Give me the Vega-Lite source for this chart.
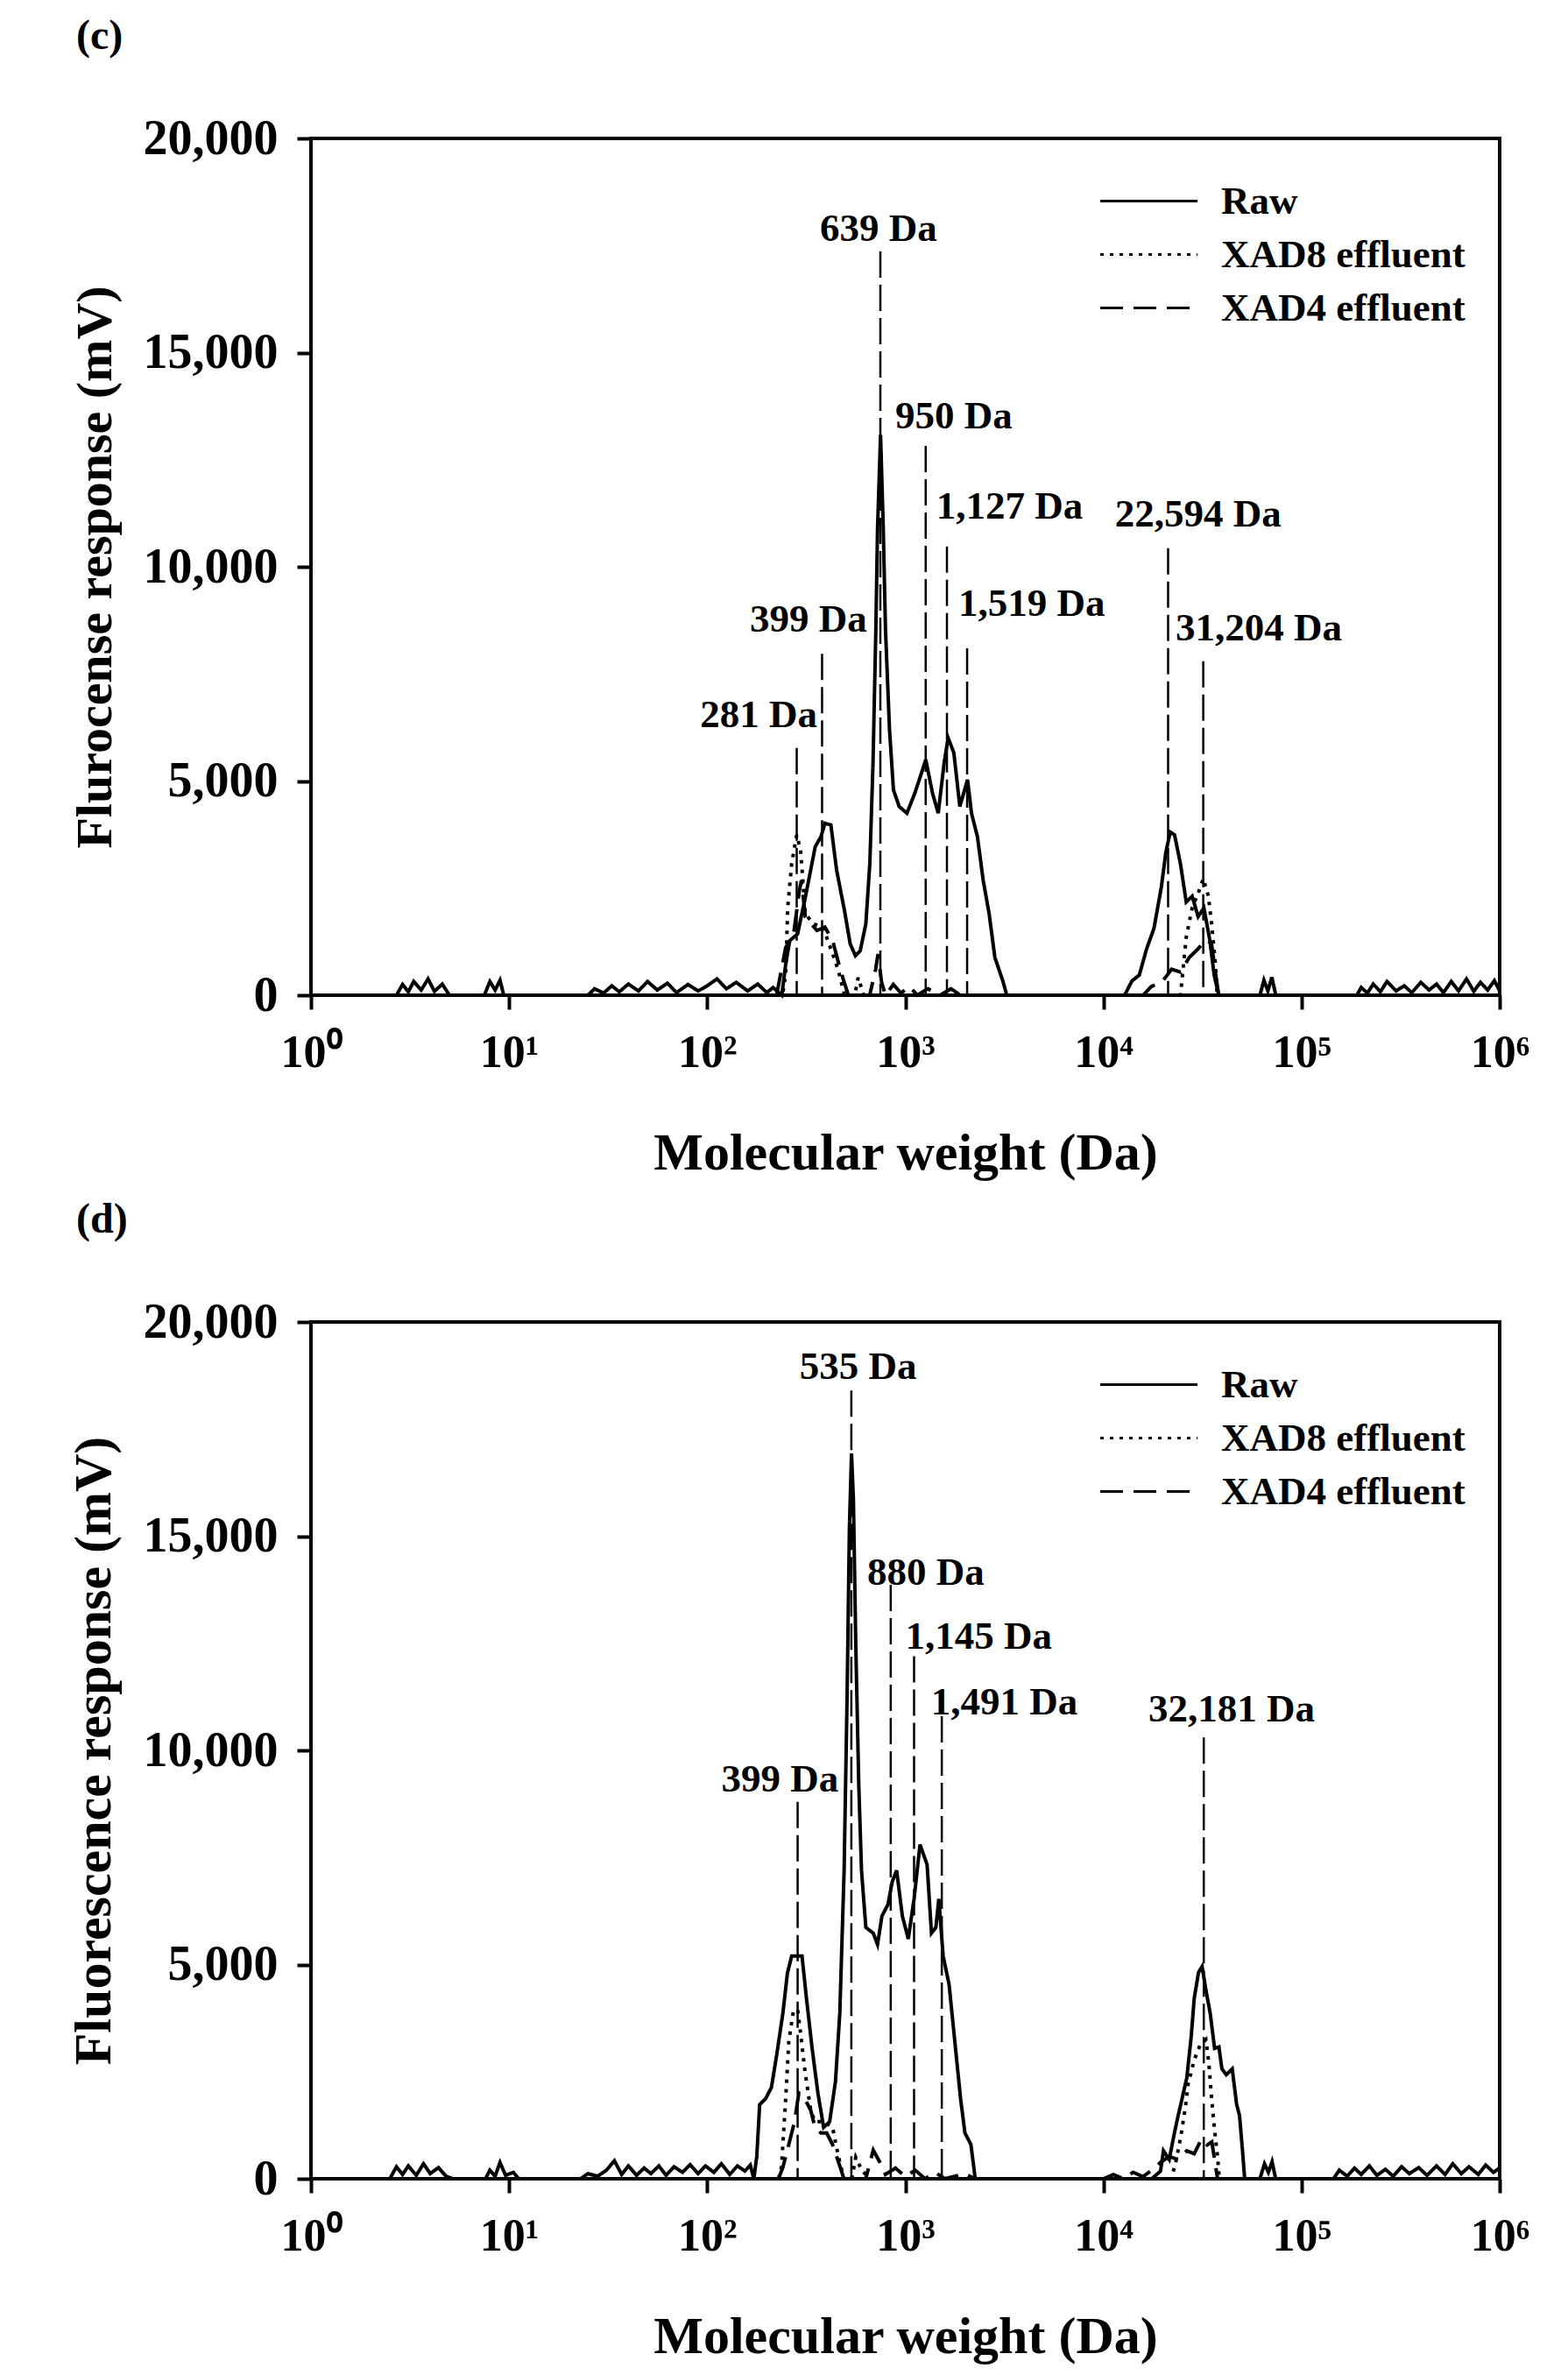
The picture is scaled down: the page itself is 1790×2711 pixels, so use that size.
{
  "$schema": "https://vega.github.io/schema/vega-lite/v6.json",
  "background": "white",
  "padding": {"left": 75, "top": 16, "right": 5, "bottom": 5},
  "spacing": 19,
  "datasets": {
    "c_curves": [
      {"mw": 2.7, "mv": 0, "s": "Raw"}, {"mw": 2.9, "mv": 250, "s": "Raw"}, {"mw": 3.1, "mv": 80, "s": "Raw"}, {"mw": 3.3, "mv": 320, "s": "Raw"}, {"mw": 3.6, "mv": 120, "s": "Raw"}, {"mw": 3.9, "mv": 380, "s": "Raw"}, {"mw": 4.2, "mv": 90, "s": "Raw"}, {"mw": 4.6, "mv": 260, "s": "Raw"}, {"mw": 5.0, "mv": 0, "s": "Raw"},
      {"mw": 7.5, "mv": 0, "s": "Raw"}, {"mw": 8.0, "mv": 320, "s": "Raw"}, {"mw": 8.5, "mv": 120, "s": "Raw"}, {"mw": 9.0, "mv": 350, "s": "Raw"}, {"mw": 9.4, "mv": 0, "s": "Raw"},
      {"mw": 25, "mv": 0, "s": "Raw"}, {"mw": 27, "mv": 150, "s": "Raw"}, {"mw": 30, "mv": 50, "s": "Raw"}, {"mw": 33, "mv": 220, "s": "Raw"}, {"mw": 36, "mv": 80, "s": "Raw"}, {"mw": 40, "mv": 260, "s": "Raw"}, {"mw": 45, "mv": 100, "s": "Raw"}, {"mw": 50, "mv": 320, "s": "Raw"}, {"mw": 56, "mv": 120, "s": "Raw"}, {"mw": 63, "mv": 280, "s": "Raw"}, {"mw": 70, "mv": 60, "s": "Raw"}, {"mw": 80, "mv": 250, "s": "Raw"}, {"mw": 90, "mv": 100, "s": "Raw"}, {"mw": 100, "mv": 220, "s": "Raw"}, {"mw": 112, "mv": 380, "s": "Raw"}, {"mw": 125, "mv": 150, "s": "Raw"}, {"mw": 140, "mv": 300, "s": "Raw"}, {"mw": 160, "mv": 100, "s": "Raw"}, {"mw": 180, "mv": 260, "s": "Raw"}, {"mw": 200, "mv": 60, "s": "Raw"}, {"mw": 215, "mv": 180, "s": "Raw"}, {"mw": 238, "mv": 0, "s": "Raw"},
      {"mw": 249, "mv": 726, "s": "Raw"}, {"mw": 261, "mv": 1274, "s": "Raw"}, {"mw": 286, "mv": 1430, "s": "Raw"}, {"mw": 313, "mv": 2291, "s": "Raw"}, {"mw": 351, "mv": 3466, "s": "Raw"}, {"mw": 375, "mv": 3700, "s": "Raw"}, {"mw": 393, "mv": 4013, "s": "Raw"}, {"mw": 421, "mv": 3974, "s": "Raw"}, {"mw": 450, "mv": 2918, "s": "Raw"}, {"mw": 493, "mv": 1978, "s": "Raw"}, {"mw": 527, "mv": 1196, "s": "Raw"}, {"mw": 560, "mv": 922, "s": "Raw"}, {"mw": 592, "mv": 1039, "s": "Raw"}, {"mw": 632, "mv": 1665, "s": "Raw"}, {"mw": 662, "mv": 3074, "s": "Raw"}, {"mw": 687, "mv": 5422, "s": "Raw"}, {"mw": 710, "mv": 8552, "s": "Raw"}, {"mw": 724, "mv": 10900, "s": "Raw"}, {"mw": 750, "mv": 13074, "s": "Raw"}, {"mw": 773, "mv": 11000, "s": "Raw"}, {"mw": 794, "mv": 8552, "s": "Raw"}, {"mw": 832, "mv": 6204, "s": "Raw"}, {"mw": 871, "mv": 4796, "s": "Raw"}, {"mw": 931, "mv": 4404, "s": "Raw"}, {"mw": 1019, "mv": 4248, "s": "Raw"}, {"mw": 1117, "mv": 4718, "s": "Raw"}, {"mw": 1222, "mv": 5265, "s": "Raw"}, {"mw": 1268, "mv": 5500, "s": "Raw"}, {"mw": 1371, "mv": 4718, "s": "Raw"}, {"mw": 1466, "mv": 4248, "s": "Raw"}, {"mw": 1570, "mv": 5422, "s": "Raw"}, {"mw": 1644, "mv": 6009, "s": "Raw"}, {"mw": 1758, "mv": 5657, "s": "Raw"}, {"mw": 1884, "mv": 4404, "s": "Raw"}, {"mw": 2061, "mv": 5030, "s": "Raw"}, {"mw": 2158, "mv": 4248, "s": "Raw"}, {"mw": 2312, "mv": 3700, "s": "Raw"}, {"mw": 2472, "mv": 2683, "s": "Raw"}, {"mw": 2649, "mv": 1900, "s": "Raw"}, {"mw": 2831, "mv": 883, "s": "Raw"}, {"mw": 3105, "mv": 335, "s": "Raw"}, {"mw": 3251, "mv": 0, "s": "Raw"},
      {"mw": 12790, "mv": 0, "s": "Raw"}, {"mw": 13930, "mv": 333, "s": "Raw"}, {"mw": 15170, "mv": 470, "s": "Raw"}, {"mw": 16520, "mv": 1083, "s": "Raw"}, {"mw": 17990, "mv": 1560, "s": "Raw"}, {"mw": 19590, "mv": 2515, "s": "Raw"}, {"mw": 20650, "mv": 3333, "s": "Raw"}, {"mw": 21730, "mv": 3810, "s": "Raw"}, {"mw": 22860, "mv": 3742, "s": "Raw"}, {"mw": 24490, "mv": 3060, "s": "Raw"}, {"mw": 26180, "mv": 2174, "s": "Raw"}, {"mw": 28050, "mv": 2310, "s": "Raw"}, {"mw": 30060, "mv": 1833, "s": "Raw"}, {"mw": 32140, "mv": 2037, "s": "Raw"}, {"mw": 34430, "mv": 1288, "s": "Raw"}, {"mw": 36220, "mv": 470, "s": "Raw"}, {"mw": 38190, "mv": 0, "s": "Raw"},
      {"mw": 61660, "mv": 0, "s": "Raw"}, {"mw": 64570, "mv": 350, "s": "Raw"}, {"mw": 67610, "mv": 100, "s": "Raw"}, {"mw": 70790, "mv": 420, "s": "Raw"}, {"mw": 74130, "mv": 0, "s": "Raw"},
      {"mw": 190000, "mv": 0, "s": "Raw"}, {"mw": 200000, "mv": 180, "s": "Raw"}, {"mw": 215000, "mv": 50, "s": "Raw"}, {"mw": 230000, "mv": 260, "s": "Raw"}, {"mw": 250000, "mv": 80, "s": "Raw"}, {"mw": 270000, "mv": 320, "s": "Raw"}, {"mw": 300000, "mv": 100, "s": "Raw"}, {"mw": 330000, "mv": 220, "s": "Raw"}, {"mw": 360000, "mv": 60, "s": "Raw"}, {"mw": 400000, "mv": 300, "s": "Raw"}, {"mw": 440000, "mv": 120, "s": "Raw"}, {"mw": 480000, "mv": 260, "s": "Raw"}, {"mw": 520000, "mv": 60, "s": "Raw"}, {"mw": 570000, "mv": 320, "s": "Raw"}, {"mw": 620000, "mv": 100, "s": "Raw"}, {"mw": 680000, "mv": 380, "s": "Raw"}, {"mw": 740000, "mv": 90, "s": "Raw"}, {"mw": 800000, "mv": 300, "s": "Raw"}, {"mw": 870000, "mv": 120, "s": "Raw"}, {"mw": 940000, "mv": 340, "s": "Raw"}, {"mw": 1000000, "mv": 100, "s": "Raw"},
      {"mw": 200, "mv": 0, "s": "XAD8 effluent"}, {"mw": 240, "mv": 0, "s": "XAD8 effluent"}, {"mw": 249, "mv": 500, "s": "XAD8 effluent"}, {"mw": 255, "mv": 2057, "s": "XAD8 effluent"}, {"mw": 267, "mv": 3074, "s": "XAD8 effluent"}, {"mw": 283, "mv": 3740, "s": "XAD8 effluent"}, {"mw": 296, "mv": 3387, "s": "XAD8 effluent"}, {"mw": 313, "mv": 1900, "s": "XAD8 effluent"}, {"mw": 343, "mv": 1665, "s": "XAD8 effluent"}, {"mw": 384, "mv": 1587, "s": "XAD8 effluent"}, {"mw": 430, "mv": 961, "s": "XAD8 effluent"}, {"mw": 460, "mv": 570, "s": "XAD8 effluent"}, {"mw": 493, "mv": 0, "s": "XAD8 effluent"}, {"mw": 556, "mv": 0, "s": "XAD8 effluent"}, {"mw": 578, "mv": 413, "s": "XAD8 effluent"}, {"mw": 617, "mv": 0, "s": "XAD8 effluent"},
      {"mw": 24490, "mv": 0, "s": "XAD8 effluent"}, {"mw": 26180, "mv": 1356, "s": "XAD8 effluent"}, {"mw": 28050, "mv": 2037, "s": "XAD8 effluent"}, {"mw": 30060, "mv": 2378, "s": "XAD8 effluent"}, {"mw": 31920, "mv": 2719, "s": "XAD8 effluent"}, {"mw": 33880, "mv": 2310, "s": "XAD8 effluent"}, {"mw": 35080, "mv": 1697, "s": "XAD8 effluent"}, {"mw": 36640, "mv": 810, "s": "XAD8 effluent"}, {"mw": 37500, "mv": 0, "s": "XAD8 effluent"},
      {"mw": 224, "mv": 0, "s": "XAD4 effluent"}, {"mw": 249, "mv": 1117, "s": "XAD4 effluent"}, {"mw": 273, "mv": 1430, "s": "XAD4 effluent"}, {"mw": 292, "mv": 2448, "s": "XAD4 effluent"}, {"mw": 299, "mv": 2683, "s": "XAD4 effluent"}, {"mw": 313, "mv": 1822, "s": "XAD4 effluent"}, {"mw": 335, "mv": 1665, "s": "XAD4 effluent"}, {"mw": 358, "mv": 1509, "s": "XAD4 effluent"}, {"mw": 393, "mv": 1587, "s": "XAD4 effluent"}, {"mw": 430, "mv": 1274, "s": "XAD4 effluent"}, {"mw": 471, "mv": 570, "s": "XAD4 effluent"}, {"mw": 516, "mv": 0, "s": "XAD4 effluent"}, {"mw": 661, "mv": 0, "s": "XAD4 effluent"}, {"mw": 708, "mv": 600, "s": "XAD4 effluent"}, {"mw": 728, "mv": 961, "s": "XAD4 effluent"}, {"mw": 759, "mv": 300, "s": "XAD4 effluent"}, {"mw": 794, "mv": 0, "s": "XAD4 effluent"}, {"mw": 870, "mv": 250, "s": "XAD4 effluent"}, {"mw": 950, "mv": 50, "s": "XAD4 effluent"}, {"mw": 1050, "mv": 200, "s": "XAD4 effluent"}, {"mw": 1150, "mv": 0, "s": "XAD4 effluent"}, {"mw": 1300, "mv": 150, "s": "XAD4 effluent"}, {"mw": 1500, "mv": 0, "s": "XAD4 effluent"}, {"mw": 1700, "mv": 150, "s": "XAD4 effluent"}, {"mw": 1900, "mv": 0, "s": "XAD4 effluent"},
      {"mw": 15850, "mv": 0, "s": "XAD4 effluent"}, {"mw": 17380, "mv": 197, "s": "XAD4 effluent"}, {"mw": 19950, "mv": 333, "s": "XAD4 effluent"}, {"mw": 22080, "mv": 606, "s": "XAD4 effluent"}, {"mw": 24490, "mv": 538, "s": "XAD4 effluent"}, {"mw": 27100, "mv": 879, "s": "XAD4 effluent"}, {"mw": 30060, "mv": 1083, "s": "XAD4 effluent"}, {"mw": 32730, "mv": 1288, "s": "XAD4 effluent"}, {"mw": 35080, "mv": 1220, "s": "XAD4 effluent"}, {"mw": 36900, "mv": 470, "s": "XAD4 effluent"}, {"mw": 38190, "mv": 0, "s": "XAD4 effluent"}
    ],
    "c_peaks": [
      {"mw": 283, "top": 5774, "label": "281 Da", "lmw": 182, "lmv": 6544},
      {"mw": 380, "top": 7970, "label": "399 Da", "lmw": 324, "lmv": 8773},
      {"mw": 748, "top": 17362, "label": "639 Da", "lmw": 733, "lmv": 17894},
      {"mw": 1267, "top": 12822, "label": "950 Da", "lmw": 1758, "lmv": 13517},
      {"mw": 1622, "top": 10477, "label": "1,127 Da", "lmw": 3357, "lmv": 11411},
      {"mw": 2051, "top": 8100, "label": "1,519 Da", "lmw": 4345, "lmv": 9141},
      {"mw": 21200, "top": 10437, "label": "22,594 Da", "lmw": 30060, "lmv": 11227},
      {"mw": 31900, "top": 7798, "label": "31,204 Da", "lmw": 60810, "lmv": 8569}
    ],
    "d_curves": [
      {"mw": 2.5, "mv": 0, "s": "Raw"}, {"mw": 2.7, "mv": 280, "s": "Raw"}, {"mw": 2.9, "mv": 100, "s": "Raw"}, {"mw": 3.1, "mv": 300, "s": "Raw"}, {"mw": 3.4, "mv": 80, "s": "Raw"}, {"mw": 3.7, "mv": 350, "s": "Raw"}, {"mw": 4.0, "mv": 120, "s": "Raw"}, {"mw": 4.4, "mv": 260, "s": "Raw"}, {"mw": 4.8, "mv": 60, "s": "Raw"}, {"mw": 5.2, "mv": 0, "s": "Raw"},
      {"mw": 7.6, "mv": 0, "s": "Raw"}, {"mw": 8.0, "mv": 200, "s": "Raw"}, {"mw": 8.5, "mv": 60, "s": "Raw"}, {"mw": 9.0, "mv": 380, "s": "Raw"}, {"mw": 9.6, "mv": 80, "s": "Raw"}, {"mw": 10.5, "mv": 150, "s": "Raw"}, {"mw": 11.2, "mv": 0, "s": "Raw"},
      {"mw": 23, "mv": 0, "s": "Raw"}, {"mw": 25, "mv": 120, "s": "Raw"}, {"mw": 28, "mv": 60, "s": "Raw"}, {"mw": 31, "mv": 200, "s": "Raw"}, {"mw": 34, "mv": 420, "s": "Raw"}, {"mw": 37, "mv": 100, "s": "Raw"}, {"mw": 40, "mv": 300, "s": "Raw"}, {"mw": 44, "mv": 80, "s": "Raw"}, {"mw": 48, "mv": 250, "s": "Raw"}, {"mw": 52, "mv": 120, "s": "Raw"}, {"mw": 57, "mv": 300, "s": "Raw"}, {"mw": 62, "mv": 80, "s": "Raw"}, {"mw": 68, "mv": 280, "s": "Raw"}, {"mw": 75, "mv": 150, "s": "Raw"}, {"mw": 82, "mv": 330, "s": "Raw"}, {"mw": 90, "mv": 120, "s": "Raw"}, {"mw": 98, "mv": 300, "s": "Raw"}, {"mw": 108, "mv": 150, "s": "Raw"}, {"mw": 118, "mv": 350, "s": "Raw"}, {"mw": 130, "mv": 100, "s": "Raw"}, {"mw": 142, "mv": 300, "s": "Raw"}, {"mw": 155, "mv": 180, "s": "Raw"}, {"mw": 165, "mv": 320, "s": "Raw"}, {"mw": 172, "mv": 0, "s": "Raw"},
      {"mw": 178, "mv": 533, "s": "Raw"}, {"mw": 184, "mv": 1733, "s": "Raw"}, {"mw": 197, "mv": 1867, "s": "Raw"}, {"mw": 211, "mv": 2133, "s": "Raw"}, {"mw": 225, "mv": 2933, "s": "Raw"}, {"mw": 241, "mv": 3867, "s": "Raw"}, {"mw": 254, "mv": 4800, "s": "Raw"}, {"mw": 267, "mv": 5200, "s": "Raw"}, {"mw": 301, "mv": 5200, "s": "Raw"}, {"mw": 316, "mv": 4267, "s": "Raw"}, {"mw": 338, "mv": 3067, "s": "Raw"}, {"mw": 362, "mv": 2000, "s": "Raw"}, {"mw": 387, "mv": 1200, "s": "Raw"}, {"mw": 415, "mv": 1333, "s": "Raw"}, {"mw": 444, "mv": 2267, "s": "Raw"}, {"mw": 467, "mv": 3867, "s": "Raw"}, {"mw": 491, "mv": 7200, "s": "Raw"}, {"mw": 508, "mv": 11200, "s": "Raw"}, {"mw": 522, "mv": 15200, "s": "Raw"}, {"mw": 535, "mv": 16930, "s": "Raw"}, {"mw": 547, "mv": 15870, "s": "Raw"}, {"mw": 562, "mv": 12530, "s": "Raw"}, {"mw": 582, "mv": 9200, "s": "Raw"}, {"mw": 601, "mv": 7200, "s": "Raw"}, {"mw": 632, "mv": 5867, "s": "Raw"}, {"mw": 689, "mv": 5733, "s": "Raw"}, {"mw": 724, "mv": 5467, "s": "Raw"}, {"mw": 762, "mv": 6133, "s": "Raw"}, {"mw": 817, "mv": 6400, "s": "Raw"}, {"mw": 859, "mv": 6933, "s": "Raw"}, {"mw": 904, "mv": 7200, "s": "Raw"}, {"mw": 966, "mv": 6133, "s": "Raw"}, {"mw": 1035, "mv": 5600, "s": "Raw"}, {"mw": 1107, "mv": 6533, "s": "Raw"}, {"mw": 1186, "mv": 7800, "s": "Raw"}, {"mw": 1288, "mv": 7333, "s": "Raw"}, {"mw": 1355, "mv": 5733, "s": "Raw"}, {"mw": 1426, "mv": 5867, "s": "Raw"}, {"mw": 1476, "mv": 6533, "s": "Raw"}, {"mw": 1552, "mv": 5200, "s": "Raw"}, {"mw": 1663, "mv": 4533, "s": "Raw"}, {"mw": 1778, "mv": 3200, "s": "Raw"}, {"mw": 1901, "mv": 1867, "s": "Raw"}, {"mw": 2000, "mv": 1067, "s": "Raw"}, {"mw": 2143, "mv": 800, "s": "Raw"}, {"mw": 2254, "mv": 0, "s": "Raw"},
      {"mw": 17540, "mv": 0, "s": "Raw"}, {"mw": 19410, "mv": 177, "s": "Raw"}, {"mw": 20090, "mv": 654, "s": "Raw"}, {"mw": 21480, "mv": 450, "s": "Raw"}, {"mw": 22650, "mv": 996, "s": "Raw"}, {"mw": 23820, "mv": 1473, "s": "Raw"}, {"mw": 24600, "mv": 1746, "s": "Raw"}, {"mw": 26360, "mv": 2361, "s": "Raw"}, {"mw": 27730, "mv": 3316, "s": "Raw"}, {"mw": 28710, "mv": 4203, "s": "Raw"}, {"mw": 30200, "mv": 4817, "s": "Raw"}, {"mw": 31480, "mv": 4954, "s": "Raw"}, {"mw": 32890, "mv": 4408, "s": "Raw"}, {"mw": 34590, "mv": 3862, "s": "Raw"}, {"mw": 36390, "mv": 3043, "s": "Raw"}, {"mw": 38280, "mv": 3077, "s": "Raw"}, {"mw": 39630, "mv": 2565, "s": "Raw"}, {"mw": 41690, "mv": 2429, "s": "Raw"}, {"mw": 44670, "mv": 2565, "s": "Raw"}, {"mw": 46990, "mv": 1746, "s": "Raw"}, {"mw": 48640, "mv": 1473, "s": "Raw"}, {"mw": 50350, "mv": 654, "s": "Raw"}, {"mw": 51640, "mv": 0, "s": "Raw"},
      {"mw": 61660, "mv": 0, "s": "Raw"}, {"mw": 65000, "mv": 350, "s": "Raw"}, {"mw": 68000, "mv": 150, "s": "Raw"}, {"mw": 71000, "mv": 400, "s": "Raw"}, {"mw": 74000, "mv": 0, "s": "Raw"},
      {"mw": 145000, "mv": 0, "s": "Raw"}, {"mw": 155000, "mv": 200, "s": "Raw"}, {"mw": 170000, "mv": 60, "s": "Raw"}, {"mw": 185000, "mv": 250, "s": "Raw"}, {"mw": 200000, "mv": 100, "s": "Raw"}, {"mw": 220000, "mv": 300, "s": "Raw"}, {"mw": 240000, "mv": 80, "s": "Raw"}, {"mw": 265000, "mv": 220, "s": "Raw"}, {"mw": 290000, "mv": 60, "s": "Raw"}, {"mw": 320000, "mv": 280, "s": "Raw"}, {"mw": 350000, "mv": 120, "s": "Raw"}, {"mw": 390000, "mv": 260, "s": "Raw"}, {"mw": 430000, "mv": 80, "s": "Raw"}, {"mw": 480000, "mv": 300, "s": "Raw"}, {"mw": 530000, "mv": 100, "s": "Raw"}, {"mw": 580000, "mv": 350, "s": "Raw"}, {"mw": 640000, "mv": 120, "s": "Raw"}, {"mw": 700000, "mv": 280, "s": "Raw"}, {"mw": 780000, "mv": 100, "s": "Raw"}, {"mw": 850000, "mv": 320, "s": "Raw"}, {"mw": 930000, "mv": 150, "s": "Raw"}, {"mw": 1000000, "mv": 250, "s": "Raw"},
      {"mw": 229, "mv": 0, "s": "XAD8 effluent"}, {"mw": 237, "mv": 267, "s": "XAD8 effluent"}, {"mw": 249, "mv": 1867, "s": "XAD8 effluent"}, {"mw": 258, "mv": 3200, "s": "XAD8 effluent"}, {"mw": 272, "mv": 3900, "s": "XAD8 effluent"}, {"mw": 286, "mv": 3950, "s": "XAD8 effluent"}, {"mw": 296, "mv": 3400, "s": "XAD8 effluent"}, {"mw": 311, "mv": 2533, "s": "XAD8 effluent"}, {"mw": 333, "mv": 1600, "s": "XAD8 effluent"}, {"mw": 350, "mv": 1333, "s": "XAD8 effluent"}, {"mw": 387, "mv": 1333, "s": "XAD8 effluent"}, {"mw": 429, "mv": 1200, "s": "XAD8 effluent"}, {"mw": 459, "mv": 533, "s": "XAD8 effluent"}, {"mw": 490, "mv": 0, "s": "XAD8 effluent"}, {"mw": 537, "mv": 0, "s": "XAD8 effluent"}, {"mw": 562, "mv": 500, "s": "XAD8 effluent"}, {"mw": 603, "mv": 200, "s": "XAD8 effluent"}, {"mw": 661, "mv": 0, "s": "XAD8 effluent"},
      {"mw": 21880, "mv": 0, "s": "XAD8 effluent"}, {"mw": 23010, "mv": 313, "s": "XAD8 effluent"}, {"mw": 24600, "mv": 996, "s": "XAD8 effluent"}, {"mw": 25940, "mv": 1678, "s": "XAD8 effluent"}, {"mw": 26790, "mv": 2224, "s": "XAD8 effluent"}, {"mw": 28710, "mv": 2770, "s": "XAD8 effluent"}, {"mw": 30690, "mv": 3111, "s": "XAD8 effluent"}, {"mw": 32890, "mv": 3248, "s": "XAD8 effluent"}, {"mw": 34040, "mv": 2702, "s": "XAD8 effluent"}, {"mw": 35240, "mv": 1815, "s": "XAD8 effluent"}, {"mw": 36390, "mv": 1132, "s": "XAD8 effluent"}, {"mw": 37670, "mv": 518, "s": "XAD8 effluent"}, {"mw": 38460, "mv": 0, "s": "XAD8 effluent"},
      {"mw": 229, "mv": 0, "s": "XAD4 effluent"}, {"mw": 241, "mv": 267, "s": "XAD4 effluent"}, {"mw": 258, "mv": 800, "s": "XAD4 effluent"}, {"mw": 276, "mv": 1333, "s": "XAD4 effluent"}, {"mw": 290, "mv": 2000, "s": "XAD4 effluent"}, {"mw": 311, "mv": 1867, "s": "XAD4 effluent"}, {"mw": 333, "mv": 1600, "s": "XAD4 effluent"}, {"mw": 350, "mv": 1200, "s": "XAD4 effluent"}, {"mw": 375, "mv": 1067, "s": "XAD4 effluent"}, {"mw": 401, "mv": 1067, "s": "XAD4 effluent"}, {"mw": 429, "mv": 800, "s": "XAD4 effluent"}, {"mw": 459, "mv": 400, "s": "XAD4 effluent"}, {"mw": 490, "mv": 0, "s": "XAD4 effluent"}, {"mw": 631, "mv": 0, "s": "XAD4 effluent"}, {"mw": 689, "mv": 667, "s": "XAD4 effluent"}, {"mw": 741, "mv": 400, "s": "XAD4 effluent"}, {"mw": 794, "mv": 100, "s": "XAD4 effluent"}, {"mw": 891, "mv": 250, "s": "XAD4 effluent"}, {"mw": 1000, "mv": 50, "s": "XAD4 effluent"}, {"mw": 1122, "mv": 200, "s": "XAD4 effluent"}, {"mw": 1259, "mv": 0, "s": "XAD4 effluent"}, {"mw": 1413, "mv": 150, "s": "XAD4 effluent"}, {"mw": 1585, "mv": 0, "s": "XAD4 effluent"}, {"mw": 1995, "mv": 120, "s": "XAD4 effluent"}, {"mw": 2239, "mv": 0, "s": "XAD4 effluent"},
      {"mw": 10000, "mv": 0, "s": "XAD4 effluent"}, {"mw": 11220, "mv": 100, "s": "XAD4 effluent"}, {"mw": 12590, "mv": 0, "s": "XAD4 effluent"}, {"mw": 14130, "mv": 150, "s": "XAD4 effluent"}, {"mw": 15850, "mv": 50, "s": "XAD4 effluent"}, {"mw": 17540, "mv": 200, "s": "XAD4 effluent"}, {"mw": 19410, "mv": 381, "s": "XAD4 effluent"}, {"mw": 21480, "mv": 518, "s": "XAD4 effluent"}, {"mw": 23820, "mv": 450, "s": "XAD4 effluent"}, {"mw": 26360, "mv": 654, "s": "XAD4 effluent"}, {"mw": 28710, "mv": 586, "s": "XAD4 effluent"}, {"mw": 31260, "mv": 928, "s": "XAD4 effluent"}, {"mw": 33420, "mv": 791, "s": "XAD4 effluent"}, {"mw": 35240, "mv": 860, "s": "XAD4 effluent"}, {"mw": 36390, "mv": 450, "s": "XAD4 effluent"}, {"mw": 37670, "mv": 0, "s": "XAD4 effluent"}
    ],
    "d_peaks": [
      {"mw": 286, "top": 8800, "label": "399 Da", "lmw": 233, "lmv": 9333},
      {"mw": 534, "top": 18400, "label": "535 Da", "lmw": 578, "lmv": 18960},
      {"mw": 844, "top": 13867, "label": "880 Da", "lmw": 1268, "lmv": 14160},
      {"mw": 1107, "top": 12200, "label": "1,145 Da", "lmw": 2344, "lmv": 12667},
      {"mw": 1528, "top": 10800, "label": "1,491 Da", "lmw": 3162, "lmv": 11133},
      {"mw": 32100, "top": 10300, "label": "32,181 Da", "lmw": 44360, "lmv": 10954}
    ]
  },
  "resolve": {"legend": {"strokeDash": "independent"}},
  "vconcat": [
    {
      "width": 1357,
      "height": 978,
      "title": {"text": "(c)"},
      "layer": [
        {
          "data": {"name": "c_curves"},
          "mark": {"type": "line", "color": "black", "strokeWidth": 4},
          "encoding": {
            "x": {
              "field": "mw", "type": "quantitative", "title": "Molecular weight (Da)",
              "scale": {"type": "log", "domain": [1, 1000000]},
              "axis": {
                "values": [1, 10, 100, 1000, 10000, 100000, 1000000],
                "labelExpr": "'10' + (datum.value < 5 ? '⁰' : datum.value < 50 ? '¹' : datum.value < 500 ? '²' : datum.value < 5000 ? '³' : datum.value < 50000 ? '⁴' : datum.value < 500000 ? '⁵' : '⁶')"
              }
            },
            "y": {
              "field": "mv", "type": "quantitative", "title": "Flurocense response (mV)",
              "scale": {"domain": [0, 20000]},
              "axis": {"values": [0, 5000, 10000, 15000, 20000], "labelExpr": "format(datum.value, ',')", "titleFontSize": 58}
            },
            "strokeDash": {
              "field": "s", "type": "nominal",
              "scale": {"domain": ["Raw", "XAD8 effluent", "XAD4 effluent"], "range": [[1, 0], [4, 7], [26, 12]]},
              "legend": {"title": null, "orient": "none", "legendX": 925, "legendY": 40}
            }
          }
        },
        {
          "data": {"name": "c_peaks"},
          "mark": {"type": "rule", "color": "black", "strokeWidth": 2.5, "strokeDash": [30, 8]},
          "encoding": {
            "x": {"field": "mw", "type": "quantitative", "title": "Molecular weight (Da)"},
            "y": {"field": "top", "type": "quantitative", "title": "Flurocense response (mV)"},
            "y2": {"datum": 0}
          }
        },
        {
          "data": {"name": "c_peaks"},
          "mark": {"type": "text", "font": "Liberation Serif", "fontSize": 45, "fontWeight": "bold", "color": "black", "baseline": "middle"},
          "encoding": {
            "x": {"field": "lmw", "type": "quantitative", "title": "Molecular weight (Da)"},
            "y": {"field": "lmv", "type": "quantitative", "title": "Flurocense response (mV)"},
            "text": {"field": "label"}
          }
        }
      ]
    },
    {
      "width": 1357,
      "height": 978,
      "title": {"text": "(d)"},
      "layer": [
        {
          "data": {"name": "d_curves"},
          "mark": {"type": "line", "color": "black", "strokeWidth": 4},
          "encoding": {
            "x": {
              "field": "mw", "type": "quantitative", "title": "Molecular weight (Da)",
              "scale": {"type": "log", "domain": [1, 1000000]},
              "axis": {
                "values": [1, 10, 100, 1000, 10000, 100000, 1000000],
                "labelExpr": "'10' + (datum.value < 5 ? '⁰' : datum.value < 50 ? '¹' : datum.value < 500 ? '²' : datum.value < 5000 ? '³' : datum.value < 50000 ? '⁴' : datum.value < 500000 ? '⁵' : '⁶')"
              }
            },
            "y": {
              "field": "mv", "type": "quantitative", "title": "Fluorescence response (mV)",
              "scale": {"domain": [0, 20000]},
              "axis": {"values": [0, 5000, 10000, 15000, 20000], "labelExpr": "format(datum.value, ',')"}
            },
            "strokeDash": {
              "field": "s", "type": "nominal",
              "scale": {"domain": ["Raw", "XAD8 effluent", "XAD4 effluent"], "range": [[1, 0], [4, 7], [26, 12]]},
              "legend": {"title": null, "orient": "none", "legendX": 925, "legendY": 40}
            }
          }
        },
        {
          "data": {"name": "d_peaks"},
          "mark": {"type": "rule", "color": "black", "strokeWidth": 2.5, "strokeDash": [30, 8]},
          "encoding": {
            "x": {"field": "mw", "type": "quantitative", "title": "Molecular weight (Da)"},
            "y": {"field": "top", "type": "quantitative", "title": "Fluorescence response (mV)"},
            "y2": {"datum": 0}
          }
        },
        {
          "data": {"name": "d_peaks"},
          "mark": {"type": "text", "font": "Liberation Serif", "fontSize": 45, "fontWeight": "bold", "color": "black", "baseline": "middle"},
          "encoding": {
            "x": {"field": "lmw", "type": "quantitative", "title": "Molecular weight (Da)"},
            "y": {"field": "lmv", "type": "quantitative", "title": "Fluorescence response (mV)"},
            "text": {"field": "label"}
          }
        }
      ]
    }
  ],
  "config": {
    "font": "Liberation Serif",
    "view": {"stroke": "black", "strokeWidth": 4},
    "axis": {
      "grid": false,
      "domain": false,
      "ticks": true,
      "tickColor": "black",
      "tickWidth": 4,
      "tickSize": 16,
      "labelFont": "Liberation Serif",
      "labelFontWeight": "bold",
      "labelFontSize": 52,
      "labelColor": "black",
      "labelFlush": false,
      "labelOverlap": false,
      "titleFont": "Liberation Serif",
      "titleFontWeight": "bold",
      "titleFontSize": 60,
      "titleColor": "black"
    },
    "axisX": {"labelPadding": 24, "titlePadding": 60},
    "axisY": {"labelPadding": 22, "titlePadding": 25, "labelFontSize": 56},
    "legend": {
      "symbolType": "M-1.85,0H1.85",
      "symbolSize": 3600,
      "symbolStrokeWidth": 3,
      "symbolStrokeColor": "black",
      "symbolFillColor": "transparent",
      "labelFont": "Liberation Serif",
      "labelFontSize": 45,
      "labelFontWeight": "bold",
      "labelColor": "black",
      "labelOffset": 51,
      "labelLimit": 0,
      "rowPadding": 6
    },
    "title": {
      "anchor": "start",
      "frame": "group",
      "dx": -268,
      "offset": 64,
      "baseline": "alphabetic",
      "font": "Liberation Serif",
      "fontSize": 48,
      "fontWeight": "bold",
      "color": "black"
    }
  }
}
